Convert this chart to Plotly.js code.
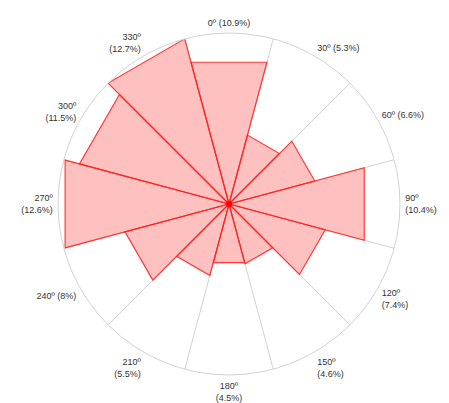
<!DOCTYPE html>
<html>
<head>
<meta charset="utf-8">
<script src="https://cdn.plot.ly/plotly-3.0.1.min.js"></script>
<style>html,body{margin:0;padding:0;background:#fff;}#chart{width:449px;height:403px;}</style>
</head>
<body>
<div id="chart"></div>
<script>
const directions = [0, 30, 60, 90, 120, 150, 180, 210, 240, 270, 300, 330];
const frequencies = [10.9, 5.3, 6.6, 10.4, 7.4, 4.6, 4.5, 5.5, 8, 12.6, 11.5, 12.7];
const tickLabels = [
  "0º (10.9%)", "30º (5.3%)", "60º (6.6%)", "90º<br>(10.4%)",
  "120º<br>(7.4%)", "150º<br>(4.6%)", "180º<br>(4.5%)", "210º<br>(5.5%)",
  "240º (8%)", "270º<br>(12.6%)", "300º<br>(11.5%)", "330º<br>(12.7%)"
];
const sectorWidth = 30;
const radialMax = 12.7;

const traces = [];
// sector boundary grid lines
const gR = [], gT = [];
directions.forEach(d => { gR.push(0, radialMax, null); gT.push(d + sectorWidth / 2, d + sectorWidth / 2, null); });
traces.push({type: 'scatterpolar', mode: 'lines', r: gR, theta: gT,
  line: {color: '#d2d2d2', width: 1}, hoverinfo: 'skip', showlegend: false});

// sectors as flat-edged triangles
directions.forEach((d, i) => {
  const v = frequencies[i];
  const a = d - sectorWidth / 2, b = d + sectorWidth / 2;
  traces.push({type: 'scatterpolar', mode: 'lines', fill: 'toself',
    r: [0, v, v, 0], theta: [a, a, b, b],
    fillcolor: 'rgba(255,80,80,0.36)',
    line: {color: 'rgba(255,30,30,0.85)', width: 1.2},
    hoverinfo: 'skip', showlegend: false});
});
// centre point
traces.push({type: 'scatterpolar', mode: 'markers', r: [0], theta: [0],
  marker: {color: '#ff0000', size: 6}, hoverinfo: 'skip', showlegend: false});

const layout = {
  width: 449, height: 403,
  margin: {l: 0, r: 0, t: 0, b: 0},
  paper_bgcolor: '#ffffff',
  showlegend: false,
  font: {family: 'Liberation Sans, Arial, sans-serif', size: 9, color: '#333'},
  polar: {
    domain: {x: [58 / 449, 400 / 449], y: [28 / 403, 370 / 403]},
    bgcolor: '#ffffff',
    radialaxis: {range: [0, radialMax], visible: false, showgrid: false},
    angularaxis: {
      rotation: 90, direction: 'clockwise',
      tickmode: 'array', tickvals: directions, ticktext: tickLabels,
      showgrid: false, showline: true, linecolor: '#d2d2d2', linewidth: 1,
      ticks: 'outside', ticklen: 3, tickcolor: 'rgba(0,0,0,0)',
      tickfont: {size: 9, color: '#333'}
    }
  }
};
Plotly.newPlot('chart', traces, layout, {staticPlot: true});
</script>
</body>
</html>
